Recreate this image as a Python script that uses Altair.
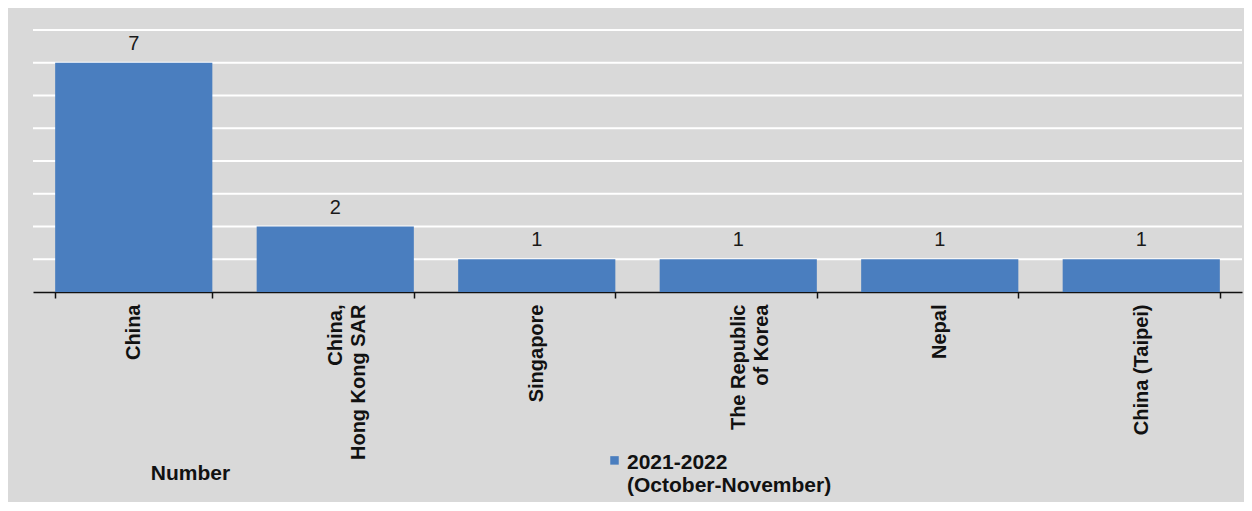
import altair as alt
import pandas as pd

countries = [
    "China",
    "China,\nHong Kong SAR",
    "Singapore",
    "The Republic\nof Korea",
    "Nepal",
    "China (Taipei)",
]
values = [7, 2, 1, 1, 1, 1]
series_name = "2021-2022\n(October-November)"
y_ticks = [1, 2, 3, 4, 5, 6, 7, 8]

df = pd.DataFrame({"country": countries, "value": values, "series": [series_name] * len(countries)})
grid_df = pd.DataFrame({"tick": y_ticks})

FONT = "Liberation Sans"
BAR = "#4a7ebf"
INK = "#111111"

x_axis = alt.Axis(
    title=None,
    labelAngle=270,
    labelAlign="right",
    labelBaseline="middle",
    labelExpr="split(datum.label, '\\n')",
    labelFont=FONT,
    labelFontSize=20,
    labelFontWeight="bold",
    labelColor=INK,
    labelPadding=6,
    labelLineHeight=23,
    labelLimit=300,
    domainColor=INK,
    domainWidth=1.5,
    tickColor=INK,
    tickWidth=1.5,
    tickSize=6,
    tickBand="extent",
    grid=False,
)

y_axis = alt.Axis(
    title="Number",
    labels=False,
    ticks=False,
    domain=False,
    grid=False,
    titleAngle=0,
    titleAlign="center",
    titleBaseline="middle",
    titleX=157,
    titleY=443,
    titleFont=FONT,
    titleFontSize=21,
    titleFontWeight="bold",
    titleColor=INK,
)

y_scale = alt.Scale(domain=[0, 8], nice=False)

grid = alt.Chart(grid_df).mark_rule(color="#ffffff", strokeWidth=2).encode(
    y=alt.Y("tick:Q", scale=y_scale, axis=y_axis),
)

bars = alt.Chart(df).mark_bar().encode(
    x=alt.X("country:N", sort=countries,
            scale=alt.Scale(paddingInner=0.22, paddingOuter=0.11), axis=x_axis),
    y=alt.Y("value:Q", scale=y_scale),
    color=alt.Color(
        "series:N",
        scale=alt.Scale(range=[BAR]),
        legend=alt.Legend(
            title=None,
            orient="none",
            legendX=571,
            legendY=411,
            symbolType="M-1,1.1H1V3.1H-1Z",
            symbolSize=72,
            symbolStrokeWidth=0,
            labelExpr="split(datum.label, '\\n')",
            labelBaseline="top",
            labelFont=FONT,
            labelFontSize=21,
            labelFontWeight="bold",
            labelColor=INK,
            labelOffset=2,
            labelLimit=400,
        ),
    ),
)

labels = alt.Chart(df).mark_text(
    baseline="alphabetic", dy=-13, font=FONT, fontSize=20, color="#1a1a1a"
).encode(
    x=alt.X("country:N", sort=countries),
    y=alt.Y("value:Q", scale=y_scale),
    text=alt.Text("value:Q"),
)

chart = (
    alt.layer(grid, bars, labels)
    .properties(
        width=1209,
        height=262,
        background="#d9d9d9",
        padding={"left": 25, "top": 22, "right": 2, "bottom": 210},
        autosize=alt.AutoSizeParams(type="none"),
    )
    .configure_view(stroke=None)
)

chart.save("out.html", embed_options={"renderer": "svg", "actions": False})
